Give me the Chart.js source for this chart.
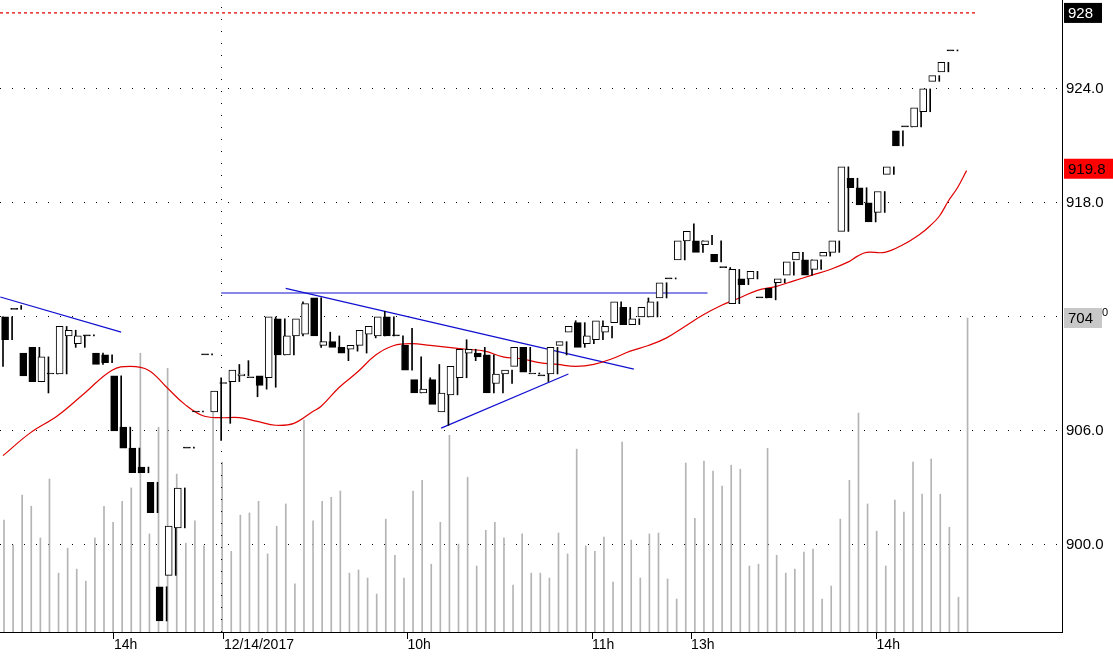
<!DOCTYPE html>
<html>
<head>
<meta charset="utf-8">
<script src="https://cdn.jsdelivr.net/npm/chart.js@4/dist/chart.umd.min.js"></script>
<style>
  html, body { margin: 0; padding: 0; background: #fff; }
  #wrap { width: 1113px; height: 656px; }
</style>
</head>
<body>
<div id="wrap"><canvas id="myChart"></canvas></div>
<script>
// candle values, one per bar (index = bar number)
const opens = [909.4,912.0,912.4,910.1,910.4,908.6,909.0,909.0,911.0,910.6,911.0,910.1,910.0,908.9,906.2,905.1,904.1,903.3,897.8,898.4,
  900.9,905.1,907.0,910.0,907.0,908.5,908.6,908.9,908.8,908.9,908.8,911.9,910.0,911.0,911.1,913.0,910.5,910.7,910.4,910.3,
  910.5,911.1,911.0,912.0,911.0,910.5,908.7,908.0,908.7,907.0,907.9,908.8,910.1,910.1,910.0,908.5,909.0,909.4,910.4,909.0,
  908.9,909.0,910.5,911.2,911.7,910.6,910.8,911.2,911.7,912.5,911.6,912.0,912.0,913.0,914.0,915.0,916.0,916.0,915.8,915.3,
  914.6,912.7,914.0,914.0,913.0,913.5,913.8,914.2,915.0,915.0,914.5,915.2,915.4,916.5,919.3,918.8,918.0,917.5,919.5,921.8,
  922.0,922.0,922.8,924.4,924.9,926.0]
const highs = [912.0,912.0,912.6,910.1,910.4,909.9,909.0,911.5,911.3,911.0,911.0,910.1,910.0,908.9,906.2,905.1,904.1,903.3,897.8,901.0,
  903.0,905.1,907.0,910.0,908.8,908.8,909.5,909.7,908.8,909.5,912.0,911.9,911.0,912.8,912.7,913.0,911.2,911.0,910.4,910.9,
  911.3,911.5,912.3,912.0,911.0,911.4,909.9,908.8,909.5,908.0,909.4,910.8,910.3,910.4,910.0,909.0,909.2,910.4,910.4,909.0,
  909.0,910.4,910.7,911.8,911.7,911.4,911.8,911.5,912.8,912.5,911.9,913.0,912.8,913.8,914.0,916.5,916.9,916.0,916.3,916.0,
  914.6,914.5,914.0,914.4,913.0,913.8,914.0,914.9,915.4,915.0,915.0,915.4,916.0,919.9,919.3,918.8,918.0,918.6,919.9,921.8,
  922.0,923.0,924.0,924.7,925.4,926.0]
const lows = [909.4,910.8,912.4,908.9,908.6,908.0,909.0,909.0,910.4,910.4,911.0,909.5,909.6,906.0,905.1,903.8,903.8,901.7,896.0,898.4,
  900.9,905.1,907.0,910.0,905.5,906.4,908.6,908.9,907.8,908.2,908.3,910.0,910.0,911.0,911.1,910.4,910.5,910.4,909.7,910.2,
  910.1,910.9,911.0,911.0,910.4,909.2,908.0,908.0,907.4,906.3,907.9,908.8,909.7,909.3,908.0,908.0,908.5,909.4,909.1,909.0,
  908.6,909.0,910.0,911.0,910.4,910.6,910.8,910.9,911.7,911.6,911.6,912.0,912.0,913.0,914.0,915.0,915.7,915.4,915.8,914.9,
  914.0,912.7,913.7,914.0,913.0,912.9,913.8,914.2,915.0,914.2,914.5,915.2,915.4,916.5,918.0,917.9,917.0,917.5,919.5,921.0,
  922.0,922.0,922.8,924.4,924.9,926.0]
const closes = [912.0,910.8,912.4,908.9,908.6,909.9,909.0,911.5,911.3,911.0,911.0,909.5,909.6,906.0,905.1,903.8,903.8,901.7,896.0,901.0,
  903.0,905.1,907.0,910.0,908.1,908.5,909.2,909.0,908.8,908.4,912.0,910.0,911.0,911.9,912.7,911.0,910.7,910.4,910.1,910.5,
  911.3,911.5,912.0,911.0,911.0,909.2,908.0,908.2,907.4,908.0,909.4,910.3,910.3,909.9,908.0,909.0,909.2,910.4,909.1,909.0,
  908.9,910.4,910.7,911.5,910.4,911.0,911.8,911.5,912.8,911.6,911.9,912.5,912.8,913.8,914.0,916.0,916.5,915.4,916.0,914.9,
  914.6,914.5,913.7,914.4,913.0,913.0,914.0,914.9,915.4,914.2,915.0,915.4,916.0,919.9,918.8,917.9,917.0,918.6,919.9,921.0,
  922.0,923.0,924.0,924.7,925.4,926.0]
const volumes = [251,195,307,282,211,343,132,188,141,114,211,282,246,293,323,625,220,459,591,354,
  199,249,193,524,381,181,262,267,293,175,237,287,108,475,249,293,302,316,132,139,
  121,85,253,172,121,316,340,152,246,441,197,347,148,228,246,211,105,220,132,132,
  121,222,175,410,193,181,213,112,426,206,121,220,222,119,74,379,255,383,361,327,
  374,365,148,152,412,172,132,141,179,186,74,103,253,340,491,287,226,148,296,269,
  381,309,388,309,235,78,704]

// moving average read at selected bars
const maBars = [0,3,6,9,12,14,16,18,20,22,24,26,28,30,32,34,35,37,39,41,43,45,47,49,51,53,55,57,59,61,63,65,67,69,71,73,75,77,79,81,83,85,87,89,91,93,94,95,97,99,101,102,103,104,105,106]
const maValues = [904.7,905.9,906.8,908.0,909.2,909.4,909.2,908.3,907.4,906.8,906.7,906.7,906.5,906.3,906.4,907.0,907.3,908.3,909.1,910.0,910.5,910.6,910.5,910.4,910.3,910.2,909.9,909.8,909.6,909.5,909.4,909.5,909.8,910.2,910.5,910.9,911.5,912.1,912.6,913.0,913.4,913.6,913.9,914.2,914.5,914.9,915.2,915.4,915.4,915.8,916.4,916.8,917.3,918.1,918.8,919.7]

// trend lines: [bar, price] pairs
const trendLines = [
  [[-0.3, 913.05], [13.0, 911.2]],
  [[24.0, 913.26], [77.5, 913.26]],
  [[31.1, 913.5], [69.4, 909.25]],
  [[48.2, 906.15], [62.2, 909.0]]
]

const timeTicks = [12.2, 24.3, 44.5, 64.8, 75.7, 96.1]
const timeLabels = ["14h", "12/14/2017", "10h", "11h", "13h", "14h"]
const priceTicks = [900, 906, 912, 918, 924]
const lastPrice = 928
const maLast = 919.8
const lastVolume = 704

const PMIN = 895.42, PMAX = 928.68
const XMIN = -0.33, XMAX = 116.5

const wicks = opens.map((o, i) => ({ x: i, y: [lows[i], highs[i]] }))
const bodies = opens.map((o, i) => ({ x: i, y: [o, closes[i]] }))
const bodyFill = opens.map((o, i) => closes[i] <= o ? "#000" : "#fff")

const datasets = [
  {
    type: "bar", data: bodies, yAxisID: "y", order: 1,
    backgroundColor: bodyFill, borderColor: "#000", borderWidth: 1,
    borderSkipped: false, barThickness: 7, minBarLength: 1
  },
  {
    type: "bar", data: wicks, yAxisID: "y", order: 2,
    backgroundColor: "#000", barThickness: 1, minBarLength: 1
  },
  {
    type: "line", data: maBars.map((b, i) => ({ x: b, y: maValues[i] })), yAxisID: "y", order: 3,
    borderColor: "#e00000", borderWidth: 1.2, pointRadius: 0, tension: 0.4, fill: false
  },
  {
    type: "line", data: [{ x: XMIN, y: lastPrice }, { x: 107.2, y: lastPrice }], yAxisID: "y", order: 3,
    borderColor: "#e00000", borderWidth: 1.3, borderDash: [3, 3], pointRadius: 0
  },
  {
    type: "line", data: [{ x: 24.04, y: PMIN }, { x: 24.04, y: PMAX }], yAxisID: "y", order: 3,
    borderColor: "#000", borderWidth: 1, borderDash: [1, 11], pointRadius: 0
  },
  ...trendLines.map(seg => ({
    type: "line", data: seg.map(p => ({ x: p[0], y: p[1] })), yAxisID: "y", order: 3,
    borderColor: "#1010d0", borderWidth: 1.2, pointRadius: 0
  })),
  {
    type: "bar", data: volumes.map((v, i) => ({ x: i, y: v })), yAxisID: "vol", order: 10,
    backgroundColor: "#b4b4b4", barThickness: 1
  }
]

const labelBoxes = {
  id: "labelBoxes",
  afterDraw(chart) {
    const ctx = chart.ctx
    const y = chart.scales.y, v = chart.scales.vol
    const area = chart.chartArea
    const left = area.right + 1
    ctx.save()
    // solid axis line on the right
    ctx.strokeStyle = "#000"
    ctx.lineWidth = 1
    ctx.beginPath()
    ctx.moveTo(area.right + 0.5, 0)
    ctx.lineTo(area.right + 0.5, area.bottom)
    ctx.stroke()
    ctx.font = "15px 'Liberation Sans', Arial"
    ctx.textBaseline = "middle"
    const box = (py, text, bg, fg, w) => {
      ctx.fillStyle = bg
      ctx.fillRect(left + 1, py - 10, w, 20)
      ctx.fillStyle = fg
      ctx.fillText(text, left + 5, py + 1)
    }
    box(y.getPixelForValue(lastPrice), String(lastPrice), "#000", "#fff", 38)
    box(y.getPixelForValue(maLast), maLast.toFixed(1), "#ff0000", "#000", 52)
    box(v.getPixelForValue(lastVolume), String(lastVolume), "#c8c8c8", "#000", 38)
    ctx.font = "11px 'Liberation Sans', Arial"
    ctx.fillStyle = "#000"
    ctx.fillText("0", left + 39, y.getPixelForValue(912) - 4)
    ctx.restore()
  }
}

new Chart(document.getElementById("myChart"), {
  data: { datasets },
  plugins: [labelBoxes],
  options: {
    responsive: true,
    maintainAspectRatio: false,
    animation: false,
    layout: { padding: 0 },
    plugins: { legend: { display: false }, tooltip: { enabled: false } },
    scales: {
      x: {
        type: "linear", min: XMIN, max: XMAX, offset: false,
        afterBuildTicks(scale) { scale.ticks = timeTicks.map(t => ({ value: t })) },
        afterFit(scale) { scale.height = 24; scale.paddingLeft = 0; scale.paddingRight = 0 },
        grid: { drawOnChartArea: false, offset: false, tickLength: 7, color: "#000" },
        border: { color: "#000", width: 1 },
        ticks: {
          autoSkip: false, maxRotation: 0, align: "start", padding: -2,
          color: "#000", font: { family: "'Liberation Sans', Arial", size: 14 },
          callback: (val, i) => timeLabels[i]
        }
      },
      y: {
        type: "linear", position: "right", min: PMIN, max: PMAX,
        afterBuildTicks(scale) { scale.ticks = priceTicks.map(t => ({ value: t })) },
        afterFit(scale) { scale.width = 51; scale.paddingTop = 0; scale.paddingBottom = 0 },
        grid: { color: "#000", lineWidth: 1, drawTicks: false },
        border: { display: false, dash: [1, 11] },
        ticks: {
          color: "#000", padding: 4, font: { family: "'Liberation Sans', Arial", size: 15 },
          callback: v => v === 912 ? "" : v.toFixed(1)
        }
      },
      vol: {
        type: "linear", display: false, min: 0, max: 1417
      }
    }
  }
})
</script>
</body>
</html>
